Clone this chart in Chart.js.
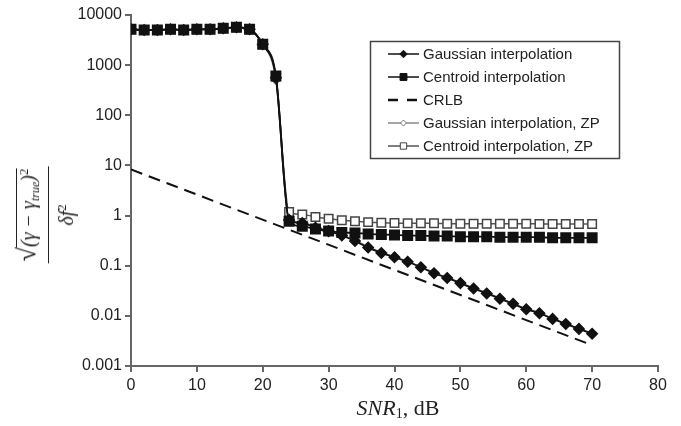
<!DOCTYPE html>
<html>
<head>
<meta charset="utf-8">
<script src="https://cdn.jsdelivr.net/npm/chart.js@4.4.1/dist/chart.umd.min.js"></script>
<style>
  body { margin: 0; background: #fff; }
  #wrap { position: relative; width: 681px; height: 426px; }
  #chart { position: absolute; left: 0; top: 0; }
  #xtitle { position: absolute; left: 398px; top: 397px; transform: translateX(-50%);
    font-family: "Liberation Serif", serif; font-size: 22px; color: #222; white-space: nowrap; line-height: 22px; }
  #xtitle sub { font-size: 14px; vertical-align: -3px; }
  #ytitle { position: absolute; left: 45px; top: 215px; transform: translate(-50%, -50%) rotate(-90deg);
    font-family: "Liberation Serif", serif; font-style: italic; font-size: 20px; color: #222;
    text-align: center; white-space: nowrap; line-height: 25px; }
  #ytitle .num { border-bottom: 1.5px solid #222; padding: 0 2px; }
  #ytitle .rad { font-style: normal; font-size: 26px; }
  #ytitle .ov { border-top: 1.5px solid #222; }
  #ytitle sub { font-size: 12px; vertical-align: -4px; }
  #ytitle sup { font-size: 13px; font-style: normal; vertical-align: 7px; }
</style>
</head>
<body>
<div id="wrap">
  <canvas id="chart" width="681" height="426"></canvas>
  <div id="xtitle"><i>SNR</i><sub>1</sub>, dB</div>
  <div id="ytitle">
    <div class="num"><span class="rad">√</span><span class="ov">(γ − γ<sub>true</sub>)<sup>2</sup></span></div>
    <div class="den">δf<sup>2</sup></div>
  </div>
</div>
<script>
// SNR in dB
var snr = [0, 2, 4, 6, 8, 10, 12, 14, 16, 18, 20, 22, 24, 26, 28, 30, 32, 34,
  36, 38, 40, 42, 44, 46, 48, 50, 52, 54, 56, 58, 60, 62, 64, 66, 68, 70];

var gaussian = [5180, 5010, 5010, 5180, 5010, 5180, 5180, 5420, 5680, 5180, 2600, 560,
  0.82, 0.71, 0.57, 0.49, 0.40, 0.31, 0.23, 0.18, 0.147, 0.12, 0.093, 0.071,
  0.057, 0.045, 0.035, 0.028, 0.022, 0.0174, 0.0135, 0.0113, 0.0087, 0.0069, 0.0055, 0.0044];

var centroid = [5180, 5010, 5010, 5180, 5010, 5180, 5180, 5420, 5680, 5180, 2600, 610,
  0.77, 0.61, 0.54, 0.49, 0.46, 0.45, 0.43, 0.42, 0.41, 0.40, 0.40, 0.39,
  0.39, 0.38, 0.38, 0.38, 0.37, 0.37, 0.37, 0.37, 0.36, 0.36, 0.36, 0.36];

var crlbSnr = [0, 70];
var crlb = [8.3, 0.0026];

var gaussianZP = [5180, 5010, 5010, 5180, 5010, 5180, 5180, 5420, 5680, 5180, 2600, 500,
  0.85, 0.73, 0.59, 0.50, 0.41, 0.32, 0.24, 0.185, 0.15, 0.122, 0.095, 0.073,
  0.058, 0.046, 0.036, 0.029, 0.0225, 0.0178, 0.0138, 0.0115, 0.0089, 0.007, 0.0056, 0.0045];

var centroidZP = [5180, 5010, 5010, 5180, 5010, 5180, 5180, 5420, 5680, 5180, 2600, 600,
  1.18, 1.05, 0.94, 0.86, 0.81, 0.77, 0.74, 0.72, 0.71, 0.70, 0.70, 0.70,
  0.69, 0.69, 0.69, 0.69, 0.69, 0.69, 0.69, 0.68, 0.68, 0.68, 0.68, 0.68];

var labels = ["Gaussian interpolation", "Centroid interpolation", "CRLB",
  "Gaussian interpolation, ZP", "Centroid interpolation, ZP"];

var yTickValues = [0.001, 0.01, 0.1, 1, 10, 100, 1000, 10000];
var yTickLabels = ["0.001", "0.01", "0.1", "1", "10", "100", "1000", "10000"];

function pts(xs, ys) {
  return xs.map(function (x, i) { return { x: x, y: ys[i] }; });
}

// legend drawn inside the plot, like the original
var boxLegend = {
  id: "boxLegend",
  afterDraw: function (chart) {
    var ctx = chart.ctx;
    ctx.save();
    ctx.strokeStyle = "#444";
    ctx.lineWidth = 1.5;
    ctx.strokeRect(370.5, 41.5, 249, 117);
    ctx.font = "15px 'Liberation Sans', Arial, sans-serif";
    ctx.fillStyle = "#222";
    ctx.textBaseline = "middle";
    chart.data.datasets.forEach(function (ds, i) {
      var y = 54 + i * 23;
      ctx.save();
      ctx.strokeStyle = ds.borderColor;
      ctx.lineWidth = ds.borderDash ? 2.5 : 1.5;
      ctx.setLineDash(ds.borderDash ? [10, 9] : []);
      ctx.beginPath();
      ctx.moveTo(388, y);
      ctx.lineTo(419, y);
      ctx.stroke();
      ctx.restore();
      if (ds.pointRadius > 0) {
        ctx.save();
        ctx.fillStyle = ds.pointBackgroundColor;
        ctx.strokeStyle = ds.pointBorderColor;
        ctx.lineWidth = 1;
        Chart.helpers.drawPoint(ctx, { pointStyle: ds.pointStyle, radius: ds.pointRadius * 0.75, borderWidth: 1 }, 403.5, y);
        ctx.restore();
      }
      ctx.fillText(labels[i], 423, y + 1);
    });
    ctx.restore();
  }
};

new Chart(document.getElementById("chart"), {
  type: "line",
  data: {
    datasets: [
      {
        label: labels[0], data: pts(snr, gaussian), order: 1,
        borderColor: "#111", borderWidth: 1.8,
        pointStyle: "rectRot", pointRadius: 5,
        pointBackgroundColor: "#111", pointBorderColor: "#111",
        cubicInterpolationMode: "monotone"
      },
      {
        label: labels[1], data: pts(snr, centroid), order: 0,
        borderColor: "#111", borderWidth: 1.8,
        pointStyle: "rect", pointRadius: 6.5,
        pointBackgroundColor: "#111", pointBorderColor: "#111",
        cubicInterpolationMode: "monotone"
      },
      {
        label: labels[2], data: pts(crlbSnr, crlb), order: 4,
        borderColor: "#111", borderWidth: 2, borderDash: [12, 7],
        pointRadius: 0
      },
      {
        label: labels[3], data: pts(snr, gaussianZP), order: 3,
        borderColor: "#888", borderWidth: 1.5,
        pointStyle: "rectRot", pointRadius: 4,
        pointBackgroundColor: "#fff", pointBorderColor: "#777",
        cubicInterpolationMode: "monotone"
      },
      {
        label: labels[4], data: pts(snr, centroidZP), order: 2,
        borderColor: "#555", borderWidth: 1.5,
        pointStyle: "rect", pointRadius: 6,
        pointBackgroundColor: "#fff", pointBorderColor: "#444",
        cubicInterpolationMode: "monotone"
      }
    ]
  },
  options: {
    responsive: false,
    animation: false,
    devicePixelRatio: 1,
    layout: { padding: { top: 15, right: 23, left: 0, bottom: 0 } },
    plugins: { legend: { display: false }, tooltip: { enabled: false } },
    scales: {
      x: {
        type: "linear", min: 0, max: 80,
        afterFit: function (s) { s.height = 60; },
        ticks: { stepSize: 10, color: "#222", padding: 4,
          font: { family: "'Liberation Sans', Arial, sans-serif", size: 16 } },
        grid: { display: true, drawOnChartArea: false, drawTicks: true, tickLength: 6,
          tickColor: "#666", lineWidth: 2 },
        border: { display: true, color: "#666", width: 2 }
      },
      y: {
        type: "logarithmic", min: 0.001, max: 10000,
        afterFit: function (s) { s.width = 131; },
        afterBuildTicks: function (s) {
          s.ticks = yTickValues.map(function (v) { return { value: v }; });
        },
        ticks: {
          color: "#222", padding: 3,
          font: { family: "'Liberation Sans', Arial, sans-serif", size: 16 },
          callback: function (v, i) { return yTickLabels[i]; }
        },
        grid: { display: true, drawOnChartArea: false, drawTicks: true, tickLength: 6,
          tickColor: "#666", lineWidth: 2 },
        border: { display: true, color: "#666", width: 2 }
      }
    }
  },
  plugins: [boxLegend]
});
</script>
</body>
</html>
